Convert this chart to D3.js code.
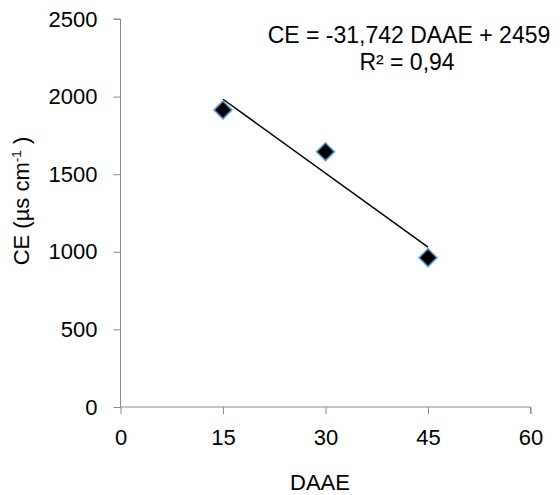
<!DOCTYPE html>
<html>
<head>
<meta charset="utf-8">
<script src="https://cdn.jsdelivr.net/npm/d3@7"></script>
<style>
  html, body { margin: 0; padding: 0; background: #fff; }
  svg { display: block; font-family: "Liberation Sans", Arial, sans-serif; }
</style>
</head>
<body>
<svg id="chart" width="560" height="495"></svg>
<script>
// Observed electrical conductivity (CE) at each DAAE sampling point
const daae = [15, 30, 45];
const ce = [1914, 1645, 962];

// Linear trendline as reported on the chart
const slope = -31.742;
const intercept = 2459;
const r2Label = "R² = 0,94";
const eqLabel = "CE = -31,742 DAAE + 2459";

// Axis ticks
const xTicks = [0, 15, 30, 45, 60];
const yTicks = [0, 500, 1000, 1500, 2000, 2500];

const svg = d3.select("#chart");
const tickFont = 22;
const eqFont = 23;
const titleFont = 22;

const x = d3.scaleLinear().domain([0, 60]).range([120.5, 530.5]);
const y = d3.scaleLinear().domain([0, 2500]).range([407, 19]);

const axisColor = "#8a8a8a";

// X axis
const gx = svg.append("g")
  .attr("transform", `translate(0,${y(0)})`)
  .call(d3.axisBottom(x).tickValues(xTicks).tickSize(7).tickPadding(15)
    .tickFormat(d3.format("d")));
gx.select(".domain").attr("stroke", axisColor).attr("d", `M${x(0)},0H${x(60)}V7`);
gx.selectAll(".tick line").attr("stroke", axisColor);
gx.selectAll(".tick text").attr("fill", "#000").attr("font-size", tickFont)
  .attr("font-family", "Liberation Sans, Arial, sans-serif");

// Y axis
const gy = svg.append("g")
  .attr("transform", `translate(${x(0)},0)`)
  .call(d3.axisLeft(y).tickValues(yTicks).tickSize(7).tickPadding(16)
    .tickFormat(d3.format("d")));
gy.select(".domain").attr("stroke", axisColor).attr("d", `M-7,${y(2500)}H0V${y(0)}`);
gy.selectAll(".tick line").attr("stroke", axisColor);
gy.selectAll(".tick text").attr("fill", "#000").attr("font-size", tickFont)
  .attr("font-family", "Liberation Sans, Arial, sans-serif");

// Trendline over the observed DAAE range
const xr = d3.extent(daae);
svg.append("line")
  .attr("x1", x(xr[0])).attr("y1", y(slope * xr[0] + intercept))
  .attr("x2", x(xr[1])).attr("y2", y(slope * xr[1] + intercept))
  .attr("stroke", "#000").attr("stroke-width", 1.5);

// Diamond markers
const diamond = d3.symbol().type(d3.symbolSquare).size(160);
svg.append("g").selectAll("path")
  .data(daae.map((d, i) => [d, ce[i]]))
  .join("path")
  .attr("d", diamond)
  .attr("transform", d => `translate(${x(d[0])},${y(d[1])}) rotate(45)`)
  .attr("fill", "#000")
  .attr("stroke", "#5b9bd5")
  .attr("stroke-width", 1.5);

// Trendline equation
const eq = svg.append("text")
  .attr("text-anchor", "middle")
  .attr("font-size", eqFont)
  .attr("fill", "#000");
eq.append("tspan").attr("x", 409).attr("y", 43).text(eqLabel);
eq.append("tspan").attr("x", 407).attr("y", 70).text(r2Label);

// Axis titles
svg.append("text")
  .attr("x", 320).attr("y", 490)
  .attr("text-anchor", "middle")
  .attr("font-size", titleFont)
  .text("DAAE");

const yt = svg.append("text")
  .attr("transform", "translate(29,201) rotate(-90)")
  .attr("text-anchor", "middle")
  .attr("font-size", titleFont);
yt.append("tspan").text("CE (µs cm");
yt.append("tspan").attr("font-size", titleFont * 0.62).attr("dy", -titleFont * 0.38).text("-1");
yt.append("tspan").attr("dy", titleFont * 0.38).text(" )");
</script>
</body>
</html>
